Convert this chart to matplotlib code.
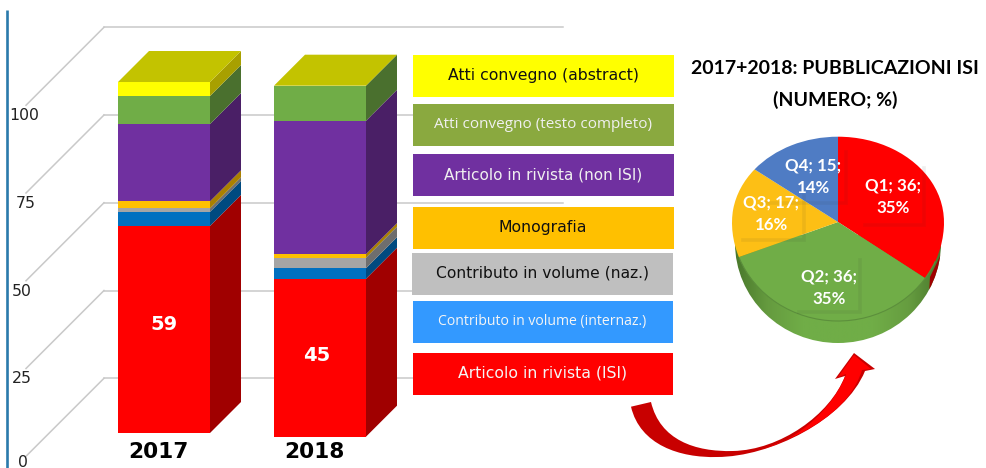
"""Publication counts 2017/2018: 3D-look stacked bars, legend boxes and ISI pie."""

import matplotlib

matplotlib.use("Agg")

import matplotlib.pyplot as plt
import numpy as np
from matplotlib.colors import LinearSegmentedColormap
from matplotlib.patches import Arc, Ellipse, PathPatch, Rectangle
from matplotlib.path import Path

# stacked bars, bottom to top
years = ["2017", "2018"]
articolo_isi = [59, 45]
contributo_internaz = [4, 3]
contributo_naz = [1, 3]
monografia = [2, 1]
articolo_non_isi = [22, 38]
atti_completo = [8, 10]
atti_abstract = [4, 0]

# pie
quartiles = ["Q1", "Q2", "Q3", "Q4"]
quartile_counts = [36, 36, 17, 15]
quartile_pct = [35, 35, 16, 14]

axis_ticks = [100, 75, 50, 25, 0]
grid_values = [125, 100, 75, 50, 25]

legend_labels = [
    "Atti convegno (abstract)",
    "Atti convegno (testo completo)",
    "Articolo in rivista (non ISI)",
    "Monografia",
    "Contributo in volume (naz.)",
    "Contributo in volume (internaz.)",
    "Articolo in rivista (ISI)",
]

W, H = 986, 468
PX_PER_UNIT = 3.51
WALL_ZERO_PX = 466
DEPTH = 31
GRID = "#c9c9c9"

fig = plt.figure(figsize=(W / 100, H / 100), dpi=100)


def pixel_axes(zorder):
    a = fig.add_axes([0, 0, 1, 1], zorder=zorder)
    a.set_xlim(0, W)
    a.set_ylim(H, 0)
    a.axis("off")
    return a


# value axes: x in pixels, y in chart units on the back wall
ax = fig.add_axes([0, 0, 1, 1], zorder=1)
ax.set_xlim(0, W)
ax.set_ylim((WALL_ZERO_PX - H) / PX_PER_UNIT, WALL_ZERO_PX / PX_PER_UNIT)
ax.axis("off")

deco = pixel_axes(2)
top = pixel_axes(4)

# axis line, wall grid and tick labels
ax.plot([7.3, 7.3], [(WALL_ZERO_PX - H) / PX_PER_UNIT, (WALL_ZERO_PX - 10) / PX_PER_UNIT],
        color="#2a7aab", lw=1.9, solid_capstyle="butt", zorder=1)
depth_units = DEPTH / PX_PER_UNIT
for v in grid_values:
    ax.plot([104, 563], [v, v], color=GRID, lw=1.1, zorder=1)
    ax.plot([104, 26], [v, v - 78 / PX_PER_UNIT], color=GRID, lw=1.1, zorder=1)
tick_x = [24.5, 26, 22, 22, 23]
tick_nudge = [-0.2, -0.2, -0.2, -0.2, 1.0]
for v, x, dy in zip(axis_ticks, tick_x, tick_nudge):
    ax.text(x, v + dy, str(v), ha="center", va="center", fontsize=11.3, color="#222222")

# bars: front faces with ax.bar, side and top faces as polygons on the same scale
series = [articolo_isi, contributo_internaz, contributo_naz, monografia,
          articolo_non_isi, atti_completo, atti_abstract]
front_colors = ["#ff0000", "#0070c0", "#a5a5a5", "#ffc000", "#7030a0", "#70ad47", "#ffff00"]
side_colors = ["#a00000", "#004a80", "#6e6e6e", "#aa8000", "#4a1f66", "#4a702e", "#a8a000"]
bar_left = [118, 274]
bar_floor = [9.4, 8.35]
bar_width = 92
label_dx = [45.5, 43]
label_dy = [1.5, 0.7]

for i, year in enumerate(years):
    bottom = bar_floor[i]
    right = bar_left[i] + bar_width
    for vals, fc, sc in zip(series, front_colors, side_colors):
        h = vals[i]
        if h == 0:
            continue
        ax.bar(bar_left[i], h, width=bar_width, bottom=bottom, align="edge", color=fc,
               linewidth=0, zorder=3)
        ax.fill([right, right + DEPTH, right + DEPTH, right],
                [bottom, bottom + depth_units, bottom + h + depth_units, bottom + h],
                color=sc, linewidth=0, zorder=3)
        bottom += h
    ax.fill([bar_left[i], right, right + DEPTH, bar_left[i] + DEPTH],
            [bottom, bottom, bottom + depth_units, bottom + depth_units],
            color="#c3c300", linewidth=0, zorder=3)
    ax.text(bar_left[i] + label_dx[i], bar_floor[i] + articolo_isi[i] / 2 + label_dy[i],
            str(articolo_isi[i]), ha="center", va="center", color="white", fontsize=14,
            fontweight="bold", zorder=4)
    ax.text(bar_left[i] + 40.5, (WALL_ZERO_PX - 452) / PX_PER_UNIT, year, ha="center", va="center",
            fontsize=15.6, fontweight="bold", color="black", zorder=4)

# legend boxes
box_x = [413, 413, 413, 413, 412, 413, 413]
box_right = [674, 674, 674, 674, 673, 673, 673]
box_y = [55, 104, 154, 207, 253, 301, 353]
box_h = 42
box_colors = ["#ffff00", "#8aa93f", "#7030a0", "#ffc000", "#bfbfbf", "#3399ff", "#ff0000"]
text_colors = ["#111111", "#f0f0f0", "#f0f0f0", "#111111", "#111111", "#f5f5f5", "#f5f5f5"]
text_sizes = [11.3, 11.0, 11.0, 11.3, 11.2, 10.1, 11.3]
text_fonts = ["DejaVu Sans", "Open Sans", "DejaVu Sans", "DejaVu Sans", "DejaVu Sans",
              "Open Sans", "DejaVu Sans"]
for lab, x0, x1, y0, fc, tc, fs, fam in zip(legend_labels, box_x, box_right, box_y, box_colors,
                                            text_colors, text_sizes, text_fonts):
    deco.add_patch(Rectangle((x0, y0), x1 - x0, box_h, facecolor=fc, linewidth=0))
    deco.text((x0 + x1) / 2 - 0.5, y0 + 20.5, lab, ha="center", va="center", color=tc,
              fontsize=fs, family=fam)

# pie side wall, under the pie
rim = Ellipse((838, 243), 206, 200, transform=deco.transData, facecolor="none", linewidth=0)
deco.add_patch(rim)
rim_cmap = LinearSegmentedColormap.from_list(
    "rim", ["#47752a", "#659b3f", "#70ad47", "#70ad47", "#70ad47", "#669d40", "#47752a"])
shade = np.linspace(0, 1, 256).reshape(1, -1)
im = deco.imshow(shade, cmap=rim_cmap, extent=(732, 944, 345, 235), aspect="auto", zorder=1)
im.set_clip_path(rim)
red_rim = deco.fill([930, 944, 941, 929], [277, 248, 270, 294], color="#a00000", linewidth=0,
                    zorder=2)[0]
red_rim.set_clip_path(rim)
deco.set_xlim(0, W)
deco.set_ylim(H, 0)

# pie, squashed unevenly around the apex to get the tilted look
PIE_TOP, PIE_APEX, PIE_BOTTOM = 136.7, 222.0, 321.0
pie_ax = fig.add_axes([732 / W, 1 - PIE_BOTTOM / H, 212 / W, (PIE_BOTTOM - PIE_TOP) / H], zorder=3)
pie_ax.pie(quartile_counts, colors=["#ff0000", "#70ad47", "#fdbf15", "#4f7cc4"], startangle=90,
           counterclock=False, radius=1.0, wedgeprops={"linewidth": 0})
up = PIE_APEX - PIE_TOP
down = PIE_BOTTOM - PIE_APEX


def squash(y):
    y = np.asarray(y, dtype=float)
    return np.where(y >= 0, y * up, y * down)


def unsquash(y):
    y = np.asarray(y, dtype=float)
    return np.where(y >= 0, y / up, y / down)


pie_ax.set_aspect("auto")
pie_ax.set_yscale("function", functions=(squash, unsquash))
pie_ax.set_xlim(-1, 1)
pie_ax.set_ylim(-1, 1)
pie_ax.axis("off")

# rim line plus the faint label box shadows
top.add_patch(Arc((838, PIE_APEX), 212, 2 * down, theta1=22, theta2=160, color="#5c8f3c", lw=0.8))
shadow_boxes = [(865, 924, 168, 225), (799, 860, 260, 312), (743, 804, 196, 240), (763, 846, 152, 203)]
for x0, x1, y0, y1 in shadow_boxes:
    top.plot([x1, x1, x0], [y0, y1, y1], color="#333333", alpha=0.08, lw=2.6,
             solid_joinstyle="miter")

pie_xy = [(893, 197), (829, 288), (771, 214), (813, 177)]
for q, n, p, (x, y) in zip(quartiles, quartile_counts, quartile_pct, pie_xy):
    top.text(x, y, f"{q}; {n};\n{p}%", ha="center", va="center", color="white",
             family="Lato", fontweight="bold", fontsize=12.2, linespacing=1.5)

top.text(835, 84.5, "2017+2018: PUBBLICAZIONI ISI\n(NUMERO; %)", ha="center", va="center",
         family="Lato", fontweight="bold", fontsize=14, linespacing=1.95, color="black")

# curved arrow from the ISI box to the pie
M, C = Path.MOVETO, Path.CURVE4
arrow_body = Path(
    [(631, 406.7), (640, 445), (680, 458), (717, 457), (770, 457), (845, 420), (865, 371),
     (875, 369), (854, 353), (835, 379), (845, 376),
     (830, 415), (780, 450), (733, 451), (695, 452), (660, 440), (651, 402), (631, 406.7)],
    [M, C, C, C, C, C, C, Path.LINETO, Path.LINETO, Path.LINETO, Path.LINETO,
     C, C, C, C, C, C, Path.LINETO])
top.add_patch(PathPatch(arrow_body, facecolor="#c80000", edgecolor="none"))
arrow_lit = Path(
    [(762, 449), (800, 440), (835, 405), (846, 374), (838, 377), (854, 355), (871, 369), (862, 370),
     (850, 410), (805, 435), (762, 449)],
    [M, C, C, C, Path.LINETO, Path.LINETO, Path.LINETO, Path.LINETO, C, C, C])
top.add_patch(PathPatch(arrow_lit, facecolor="#ff0000", edgecolor="none"))

fig.savefig("out.png", dpi=100)
